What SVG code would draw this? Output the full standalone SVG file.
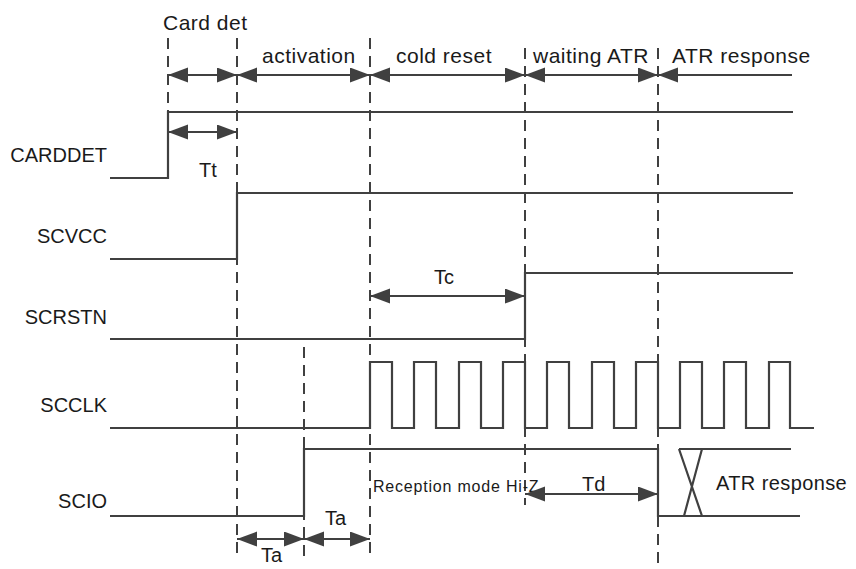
<svg xmlns="http://www.w3.org/2000/svg" width="856" height="569" viewBox="0 0 856 569">
<defs>
<marker id="ah" markerUnits="userSpaceOnUse" markerWidth="22" markerHeight="16" refX="20" refY="7.5" orient="auto-start-reverse">
<path d="M0,0 L20,7.5 L0,15 Z" fill="#404040"/>
</marker>
<style>
.sig{fill:none;stroke:#404040;stroke-width:2.2}
.dash{fill:none;stroke:#404040;stroke-width:2;stroke-dasharray:11 7}
.arr{fill:none;stroke:#404040;stroke-width:2.2;marker-start:url(#ah);marker-end:url(#ah)}
.arr1{fill:none;stroke:#404040;stroke-width:2.2;marker-end:url(#ah)}
.hd{font-family:"Liberation Sans",Arial,sans-serif;font-size:21px;fill:#1a1a1a;letter-spacing:0.5px}
.lb{font-family:"Liberation Sans",Arial,sans-serif;font-size:20px;fill:#1a1a1a;text-anchor:end}
.tm{font-family:"Liberation Sans",Arial,sans-serif;font-size:20px;fill:#1a1a1a}
.sm{font-family:"Liberation Sans",Arial,sans-serif;font-size:16px;fill:#1a1a1a;letter-spacing:0.8px}
</style>
</defs>
<rect width="856" height="569" fill="#ffffff"/>
<g id="guides">
<line class="dash" x1="168" y1="38" x2="168" y2="112"/>
<line class="dash" x1="237" y1="38" x2="237" y2="560"/>
<line class="dash" x1="304" y1="347" x2="304" y2="560"/>
<line class="dash" x1="370" y1="38" x2="370" y2="560"/>
<line class="dash" x1="525" y1="48" x2="525" y2="505"/>
<line class="dash" x1="658" y1="48" x2="658" y2="569"/>
</g>
<g id="phases">
<text class="hd" x="163" y="30">Card det</text>
<text class="hd" x="262" y="63">activation</text>
<text class="hd" x="396" y="63">cold reset</text>
<text class="hd" x="533" y="63">waiting ATR</text>
<text class="hd" x="672" y="63">ATR response</text>
</g>
<g id="carddet">
<text class="lb" x="107" y="162">CARDDET</text>
<path class="sig" d="M110,178 H168 V112 H793"/>
</g>
<g id="scvcc">
<text class="lb" x="107" y="243">SCVCC</text>
<path class="sig" d="M110,259 H237 V193 H793"/>
</g>
<g id="scrstn">
<text class="lb" x="107" y="324">SCRSTN</text>
<path class="sig" d="M110,339 H525 V273 H793"/>
</g>
<g id="scclk">
<text class="lb" x="107" y="412">SCCLK</text>
<path class="sig" d="M110,428 H370 V362 H392 V428 H414 V362 H436 V428 H459 V362 H481 V428 H503 V362 H525 V428 H547 V362 H569 V428 H592 V362 H614 V428 H636 V362 H658 V428 H680 V362 H702 V428 H724 V362 H746 V428 H769 V362 H790 V428 H814"/>
</g>
<g id="scio">
<text class="lb" x="107" y="508">SCIO</text>
<path class="sig" d="M110,516 H304 V449 H658 V516 H800"/>
<path class="sig" d="M679,449 H791"/>
<path class="sig" d="M679,449 L702,516 M702,449 L684,516"/>
<text class="tm" x="716" y="490" style="letter-spacing:0.4px">ATR response</text>
<text class="sm" x="373" y="492">Reception mode Hi-Z</text>
</g>
<g id="connectors">
<line class="arr" x1="168" y1="75" x2="237" y2="75"/>
<line class="arr" x1="237" y1="75" x2="370" y2="75"/>
<line class="arr" x1="370" y1="75" x2="525" y2="75"/>
<line class="arr" x1="525" y1="75" x2="658" y2="75"/>
<line class="arr1" x1="792" y1="75" x2="658" y2="75"/>
<line class="arr" x1="168" y1="132" x2="237" y2="132"/>
<line class="arr" x1="370" y1="296" x2="525" y2="296"/>
<line class="arr" x1="525" y1="494" x2="658" y2="494"/>
<line class="arr" x1="237" y1="539" x2="304" y2="539"/>
<line class="arr" x1="304" y1="539" x2="370" y2="539"/>
</g>
<g id="timing-labels">
<text class="tm" x="199" y="177">Tt</text>
<text class="tm" x="434" y="284">Tc</text>
<text class="tm" x="582" y="491">Td</text>
<text class="tm" x="325" y="525">Ta</text>
<text class="tm" x="261" y="562">Ta</text>
</g>
</svg>
